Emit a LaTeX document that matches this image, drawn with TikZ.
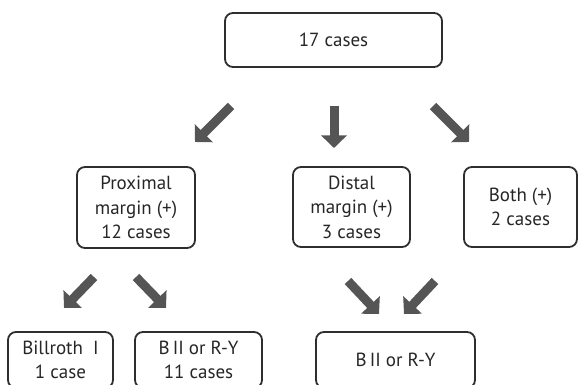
\documentclass[tikz,border=0pt]{standalone}
\usepackage{fontspec}
\setmainfont{PT Sans}
\usetikzlibrary{arrows.meta}
\definecolor{boxline}{HTML}{2E2E2E}
\definecolor{arrowgray}{HTML}{555555}
\definecolor{txt}{HTML}{262626}
\begin{document}
\begin{tikzpicture}[x=1pt,y=-1pt,
  box/.style={draw=boxline,line width=1.8pt,rounded corners=8pt,align=center,
    inner sep=0pt,text=txt,font=\fontsize{19}{24.5}\selectfont},
  bigarrow/.style={draw=arrowgray,line width=9pt,
    -{Triangle[width=25pt,length=12.5pt]}}]
\useasboundingbox (0,0) rectangle (586,385);
\begin{scope}
\clip (0,0) rectangle (586,385);
\node[box,minimum width=217pt,minimum height=54pt] (top) at (333.5,40) {17 cases};
\node[box,minimum width=118pt,minimum height=81pt] (prox) at (136,207.5) {Proximal\\margin (+)\\12 cases};
\node[box,minimum width=117pt,minimum height=80pt] (dist) at (351.5,207) {Distal\\margin (+)\\3 cases};
\node[box,minimum width=113pt,minimum height=80pt] (both) at (520.5,207) {Both (+)\\2 cases};
\node[box,minimum width=105pt,minimum height=56pt] (bill) at (60.5,360) {Billroth\ \ I\\1 case};
\node[box,minimum width=127pt,minimum height=56pt] (b2) at (198.5,360) {B\,II or R-Y\\11 cases};
\node[box,minimum width=159pt,minimum height=56pt] (b2ry) at (395.5,360) {B\,II or R-Y};
\coordinate (a1s) at (231,106); \coordinate (a1e) at (195,142);
\coordinate (a2s) at (334,106); \coordinate (a2e) at (334,148);
\coordinate (a3s) at (433,106); \coordinate (a3e) at (469,142);
\coordinate (a4s) at (94,277); \coordinate (a4e) at (64,308);
\coordinate (a5s) at (136,277); \coordinate (a5e) at (166,308);
\coordinate (a6s) at (348,281); \coordinate (a6e) at (379,314);
\coordinate (a7s) at (435,281); \coordinate (a7e) at (404,314);
\draw[bigarrow] (a1s) -- (a1e);
\draw[bigarrow] (a2s) -- (a2e);
\draw[bigarrow] (a3s) -- (a3e);
\draw[bigarrow] (a4s) -- (a4e);
\draw[bigarrow] (a5s) -- (a5e);
\draw[bigarrow] (a6s) -- (a6e);
\draw[bigarrow] (a7s) -- (a7e);
\end{scope}
\end{tikzpicture}
\end{document}
